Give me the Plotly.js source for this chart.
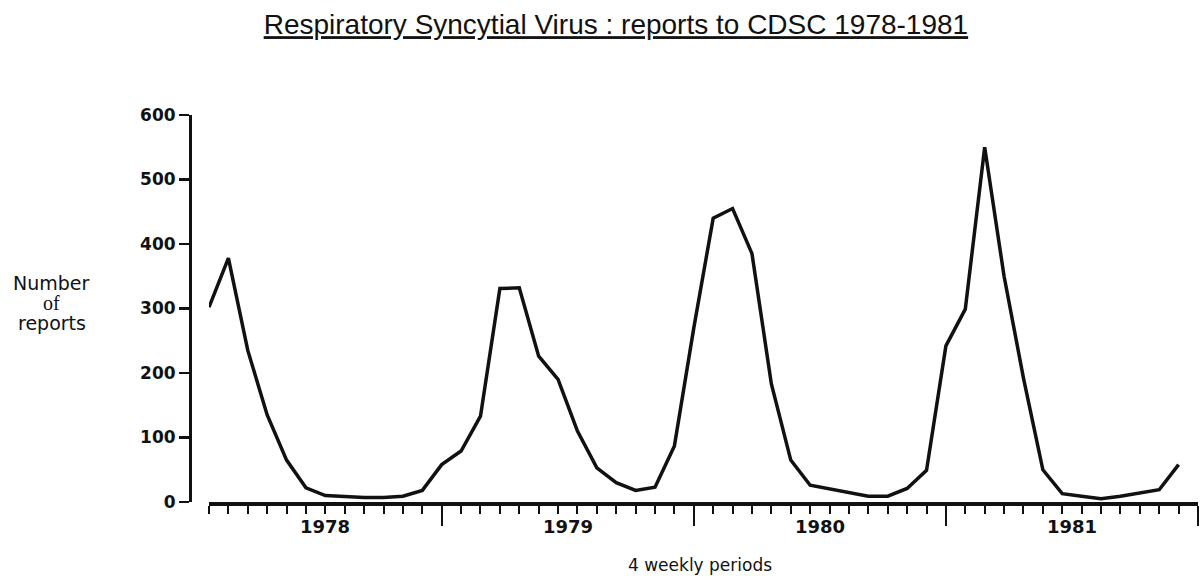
<!DOCTYPE html>
<html>
<head>
<meta charset="utf-8">
<script src="https://cdn.plot.ly/plotly-3.0.1.min.js"></script>
<style>
  html, body { margin: 0; padding: 0; background: #ffffff; }
  #chart { width: 1203px; height: 580px; }
</style>
</head>
<body>
<div id="chart"></div>
<script>
// Reports per 4-weekly period, Jan 1978 onward
const reports = [
  302, 378, 235, 135, 65, 22, 10, 8, 7, 7, 9, 18,
  58, 79, 133, 331, 332, 226, 190, 110, 53, 30, 18, 23, 87,
  270, 440, 455, 385, 183, 65, 26, 20, 15, 9, 9, 21, 49,
  242, 299, 550, 350, 192, 50, 13, 9, 5, 9, 14, 19, 58
];
const years = ['1978', '1979', '1980', '1981'];
const yearEndPeriods = [12, 25, 38, 51];
const yTicks = [0, 100, 200, 300, 400, 500, 600];
const yTitleLines = ['Number', 'of', 'reports'];

const periods = reports.map((_, i) => i);
const yearStarts = [0].concat(yearEndPeriods.slice(0, -1));
const yearMid = yearStarts.map((s, k) => (s + yearEndPeriods[k]) / 2);

const ink = '#111111';
const tickFont = { family: 'DejaVu Sans, sans-serif', size: 17, color: ink, weight: 'bold' };

const trace = {
  x: periods,
  y: reports,
  type: 'scatter',
  mode: 'lines',
  line: { color: ink, width: 3.5 },
  hoverinfo: 'x+y',
  showlegend: false
};

const annotations = years.map((yr, k) => ({
  text: yr, xref: 'x', yref: 'paper', x: yearMid[k], y: 0,
  xanchor: 'center', yanchor: 'top', yshift: -12, showarrow: false,
  font: { family: 'DejaVu Sans, sans-serif', size: 18, color: ink, weight: 'bold' }
}));
const titleLineY = [0.566, 0.514, 0.462];
yTitleLines.forEach((t, k) => {
  annotations.push({
    text: t,
    xref: 'paper', yref: 'paper', x: -0.137, y: titleLineY[k],
    xanchor: 'center', yanchor: 'middle', showarrow: false,
    font: {
      family: t === 'of' ? 'Liberation Serif, serif' : 'DejaVu Sans, sans-serif',
      size: t === 'of' ? 20 : 19, color: ink
    }
  });
});
annotations.push({
  text: '4 weekly periods',
  xref: 'paper', yref: 'paper', x: 0.506, y: -0.163,
  xanchor: 'center', yanchor: 'middle', showarrow: false,
  font: { family: 'DejaVu Sans, sans-serif', size: 17, color: ink }
});

const layout = {
  width: 1203, height: 580,
  margin: { l: 190, r: 5, t: 115, b: 78, pad: 0 },
  paper_bgcolor: '#ffffff', plot_bgcolor: '#ffffff',
  title: {
    text: 'Respiratory Syncytial Virus : reports to CDSC 1978-1981',
    x: 0.512, xanchor: 'center', xref: 'container',
    y: 0.958, yanchor: 'middle', yref: 'container',
    font: { family: 'Liberation Sans, Arial, sans-serif', size: 28, color: ink, lineposition: 'under' }
  },
  xaxis: {
    domain: [0.01885, 1],
    range: [0, 51],
    showgrid: false, zeroline: false,
    showline: true, linecolor: ink, linewidth: 3.5,
    tickmode: 'array', tickvals: yearEndPeriods,
    ticks: 'outside', ticklen: 20, tickwidth: 2, tickcolor: ink,
    showticklabels: false,
    minor: { tickmode: 'linear', tick0: 0, dtick: 1, ticks: 'outside', ticklen: 8, tickwidth: 2, tickcolor: ink, showgrid: false },
    anchor: 'y',
    fixedrange: true
  },
  yaxis: {
    range: [0, 600],
    anchor: 'free', position: 0,
    showgrid: false, zeroline: false,
    showline: true, linecolor: ink, linewidth: 3,
    tickmode: 'array', tickvals: yTicks, ticktext: yTicks.map(String),
    ticks: 'outside', ticklen: 10, tickwidth: 2.5, tickcolor: ink,
    tickfont: tickFont,
    fixedrange: true
  },
  annotations: annotations,
  showlegend: false
};

Plotly.newPlot('chart', [trace], layout, { displayModeBar: false, staticPlot: true });
</script>
</body>
</html>
